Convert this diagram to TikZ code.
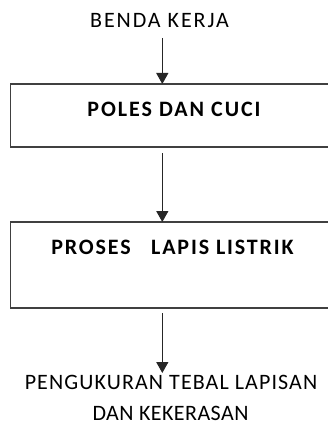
\documentclass[tikz,border=0pt]{standalone}
\usepackage{fontspec}
\setmainfont{Carlito}
\usetikzlibrary{arrows.meta}
\definecolor{edge}{HTML}{404040}
\tikzset{
  boxline/.style={draw=edge, line width=1.8pt, inner sep=0pt, outer sep=0pt, rectangle},
  lbl/.style={inner sep=0pt, anchor=base, font=\fontsize{22}{31}\selectfont},
  blbl/.style={inner sep=0pt, anchor=base, font=\bfseries\fontsize{22}{31}\selectfont},
  flow/.style={draw=black!85, line width=1.4pt, -{Triangle[length=11pt,width=12pt]}},
}
\newcommand{\lsp}[2]{{\addfontfeatures{LetterSpace=#1}#2}}
\begin{document}
\begin{tikzpicture}[x=1pt,y=-1pt]
\useasboundingbox (0,0) rectangle (328,425);
\clip (0,0) rectangle (328,425);
\node[lbl] (benda) at (159.5,27.7) {\lsp{8.8}{BENDA KERJA}};
\node[boxline, minimum width=329.5pt, minimum height=63pt] (b1) at (175.25,115.5) {};
\node[blbl] (poles) at (174,116.7) {\lsp{9}{POLES DAN CUCI}};
\node[boxline, minimum width=329.5pt, minimum height=86pt] (b2) at (175.25,265) {};
\node[blbl] (proses) at (172.5,254.3) {\lsp{8.4}{PROSES\ \ \ LAPIS LISTRIK}};
\node[lbl] (hasil) at (171,389.5) {\lsp{5}{PENGUKURAN TEBAL LAPISAN}};
\node[lbl] (hasil2) at (170.5,420.5) {\lsp{2}{DAN KEKERASAN}};
\coordinate (a1s) at (162.3,38);
\coordinate (a3e) at (162.3,373);
\draw[flow] (a1s) -- (b1.north -| a1s);
\draw[flow] ([yshift=-6pt]b1.south -| a1s) -- (b2.north -| a1s);
\draw[flow] ([yshift=-5pt]b2.south -| a1s) -- (a3e);
\end{tikzpicture}
\end{document}
